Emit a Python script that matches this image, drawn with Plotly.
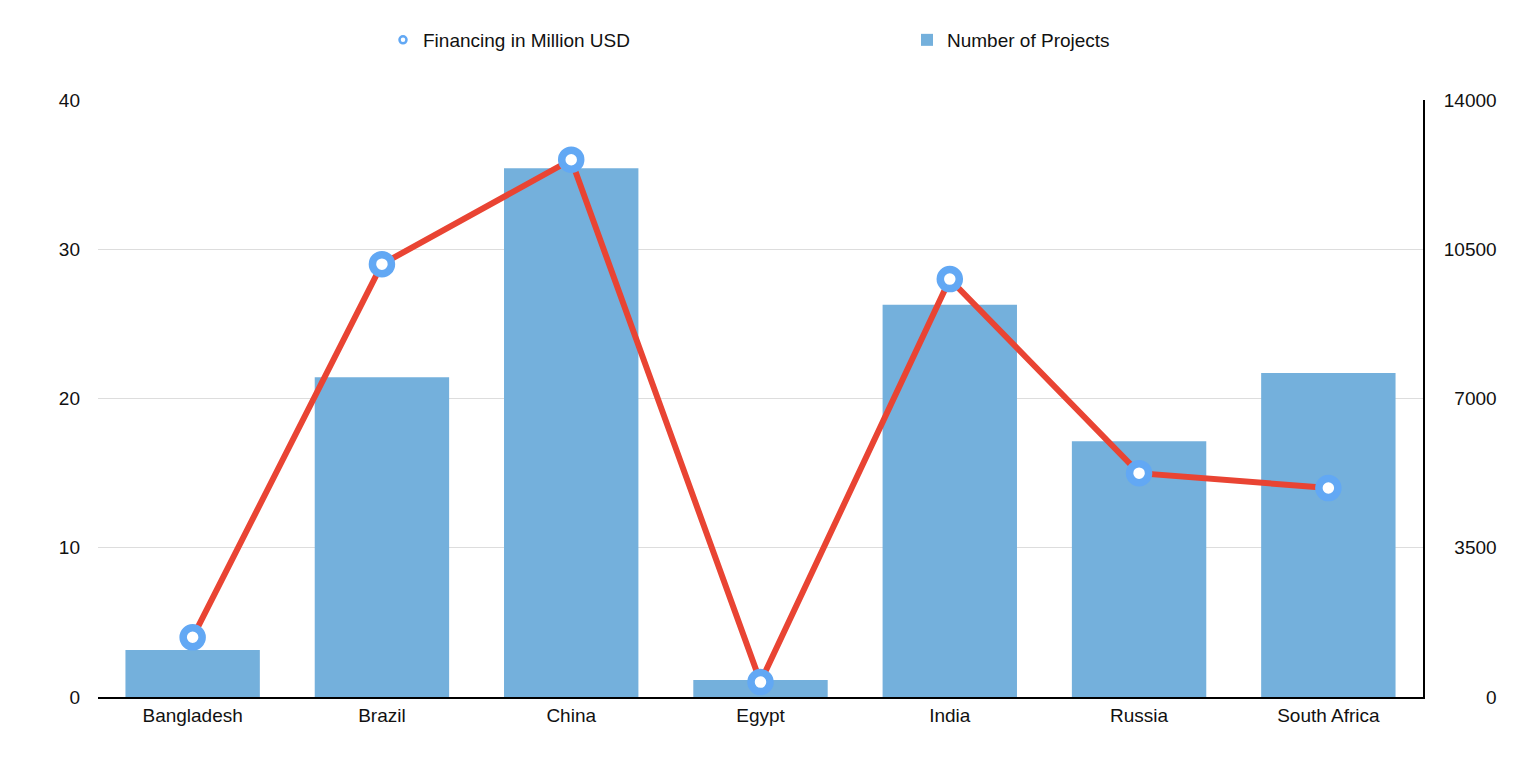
import plotly.graph_objects as go

countries = ["Bangladesh", "Brazil", "China", "Egypt", "India", "Russia", "South Africa"]
financing = [4, 29, 36, 1, 28, 15, 14]
projects = [1100, 7500, 12400, 400, 9200, 6000, 7600]

left_ticks = [0, 10, 20, 30, 40]
right_ticks = [0, 3500, 7000, 10500, 14000]
# right labels are right aligned in the reference, pad with figure spaces
right_labels = [str(v).rjust(5, "\u2007") for v in right_ticks]

FONT = "Liberation Sans, Arial, sans-serif"
BAR_BLUE = "#74b0dc"
RING_BLUE = "#62a8f4"
LINE_RED = "#e94433"

W, H = 1504, 752

fig = go.Figure()

fig.add_trace(go.Bar(
    x=countries, y=projects, name="Number of Projects",
    marker=dict(color=BAR_BLUE, line=dict(width=0)),
    yaxis="y", legendrank=2,
))

fig.add_trace(go.Scatter(
    x=countries, y=financing, mode="lines+markers", showlegend=False,
    line=dict(color=LINE_RED, width=6),
    marker=dict(size=19, color="white", line=dict(color=RING_BLUE, width=7.5)),
    yaxis="y2",
))

# legend-only entry so the key shows just the ring
fig.add_trace(go.Scatter(
    x=[None], y=[None], mode="markers", name="Financing in Million USD",
    marker=dict(size=7, color="white", line=dict(color=RING_BLUE, width=2.5)),
    yaxis="y2", legendrank=1,
))

fig.update_layout(
    width=W, height=H,
    margin=dict(l=90, r=89, t=92, b=63),
    paper_bgcolor="white", plot_bgcolor="white",
    font=dict(family=FONT, size=19, color="#111"),
    bargap=0.29,
    showlegend=True,
    legend=dict(
        orientation="h", xref="container", x=375 / W, xanchor="left",
        yref="container", y=1 - 32 / H, yanchor="middle",
        entrywidth=479, font=dict(size=19), traceorder="normal",
    ),
    xaxis=dict(
        range=[-0.5, 6.5], showgrid=False, showline=True, linecolor="black",
        linewidth=2, ticks="",
    ),
    yaxis=dict(
        range=[0, 14000], tickvals=right_ticks, ticktext=right_labels,
        side="right", showgrid=True, gridcolor="#dddddd", gridwidth=1,
        zeroline=False, showline=True, linecolor="black", linewidth=2,
        ticks="", ticklabelstandoff=15,
    ),
    yaxis2=dict(
        range=[0, 40], tickvals=left_ticks, overlaying="y", side="left",
        showgrid=False, zeroline=False, showline=False, ticks="",
        ticklabelstandoff=17,
    ),
)

fig.write_html("out.html")
